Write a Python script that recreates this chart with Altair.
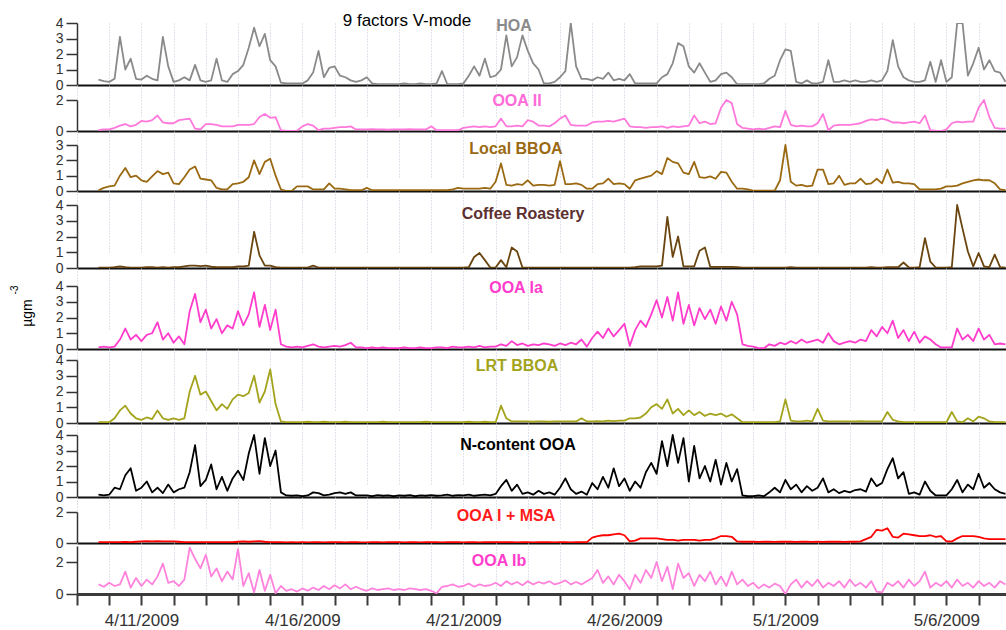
import altair as alt
import pandas as pd

# PMF factor time series, 4-hourly values (ug m-3), first value 2009-04-09 16:00.
# Row layout: first row = 4/9 16h, 20h; then one row per day (00,04,08,12,16,20 h) to 5/7.
SERIES_START = "2009-04-09 16:00"

HOA = [
    0.35, 0.25,
    0.2, 0.4, 3.1, 1.0, 1.7, 0.4,
    0.35, 0.6, 0.4, 0.3, 3.1, 1.2,
    0.2, 0.3, 0.5, 0.3, 1.3, 0.3,
    0.2, 0.3, 1.7, 0.3, 0.2, 0.7,
    0.9, 1.3, 2.4, 3.7, 2.5, 3.3,
    1.6, 1.2, 0.15, 0.1, 0.1, 0.1,
    0.1, 0.3, 0.8, 2.2, 0.5, 1.1,
    1.2, 0.6, 0.5, 0.3, 0.2, 0.3,
    0.5, 0.1, 0.05, 0.05, 0.05, 0.05,
    0.05, 0.1, 0.05, 0.05, 0.1, 0.05,
    0.05, 0.1, 0.9, 0.05, 0.05, 0.05,
    0.1, 0.6, 1.2, 0.6, 1.7, 0.5,
    0.6, 1.0, 3.2, 1.2, 1.8, 3.2,
    2.2, 1.4, 1.0, 0.1, 0.1, 0.2,
    0.5, 0.9, 4.0, 1.2, 0.4, 0.4,
    0.3, 0.5, 0.4, 0.8, 0.3, 0.4,
    0.3, 0.7, 0.1, 0.1, 0.1, 0.1,
    0.1, 0.5, 0.7, 1.4, 2.7, 2.5,
    1.2, 0.8, 1.4, 0.8, 0.2, 0.3,
    0.7, 0.8, 0.5, 0.05, 0.05, 0.05,
    0.05, 0.05, 0.1, 0.4, 0.6, 1.6,
    2.3, 2.2, 0.2, 0.1, 0.3, 0.1,
    0.1, 0.2, 1.6, 0.2, 0.2, 0.3,
    0.2, 0.3, 0.2, 0.2, 0.3, 0.2,
    0.3, 0.9, 2.9, 1.2, 0.5, 0.3,
    0.2, 0.2, 0.3, 1.5, 0.2, 1.6,
    0.2, 0.5, 4.5, 4.2, 0.6, 1.4,
    2.4, 1.0, 1.6, 0.9, 0.8, 0.2,
]

OOA_II = [
    0.05, 0.1,
    0.1, 0.2, 0.35, 0.45, 0.3, 0.4,
    0.65, 0.6, 0.7, 1.0, 0.55, 0.5,
    0.5, 0.7, 0.75, 0.8, 0.15, 0.1,
    0.45, 0.45, 0.4, 0.3, 0.3, 0.3,
    0.4, 0.4, 0.4, 0.45, 0.9, 1.1,
    0.85, 0.9, 0.05, 0.0, 0.0, 0.02,
    0.3, 0.45, 0.35, 0.05, 0.15, 0.15,
    0.2, 0.25, 0.25, 0.3, 0.1, 0.1,
    0.1, 0.12, 0.1, 0.1, 0.08, 0.1,
    0.1, 0.1, 0.12, 0.1, 0.1, 0.1,
    0.3, 0.05, 0.05, 0.05, 0.05, 0.05,
    0.2, 0.25, 0.3, 0.25, 0.3, 0.25,
    0.3, 0.8, 0.3, 0.3, 0.35, 0.3,
    0.7, 0.6, 0.35, 0.35, 0.3, 0.5,
    0.8, 1.0, 0.4, 0.35, 0.35, 0.35,
    0.55, 0.6, 0.6, 0.65, 0.6, 0.7,
    0.8, 0.3, 0.25, 0.25, 0.2, 0.25,
    0.25, 0.3, 0.2, 0.3, 0.25, 0.3,
    0.35, 1.0, 0.5, 0.6, 0.45, 0.5,
    1.5, 2.0, 1.8, 0.45, 0.2, 0.15,
    0.1, 0.15, 0.1, 0.2, 0.3, 0.25,
    1.3, 0.4, 0.3, 0.35, 0.3, 0.3,
    0.5, 1.1, 0.05, 0.35, 0.4, 0.4,
    0.4, 0.45, 0.5, 0.65, 0.75, 0.7,
    0.8, 0.7, 0.55, 0.55, 0.5, 0.55,
    0.6, 0.5, 1.0, 0.05, 0.02, 0.0,
    0.1, 0.5, 0.6, 0.55, 0.6, 0.6,
    1.5, 2.0, 0.9, 0.2, 0.15, 0.15,
]

LOCAL_BBOA = [
    0.05, 0.2,
    0.3, 0.35, 1.0, 1.5, 0.9, 1.0,
    0.7, 0.6, 0.95, 1.3, 1.1, 1.2,
    0.5, 0.45, 0.9, 1.4, 1.6, 0.8,
    0.75, 0.7, 0.2, 0.1, 0.1, 0.45,
    0.5, 0.6, 0.9, 2.0, 1.1, 1.9,
    2.1, 1.0, 0.1, 0.0, 0.0, 0.3,
    0.3, 0.3, 0.1, 0.1, 0.1, 0.5,
    0.15, 0.15, 0.1, 0.05, 0.05, 0.05,
    0.2, 0.05, 0.05, 0.05, 0.05, 0.05,
    0.05, 0.05, 0.05, 0.05, 0.05, 0.05,
    0.05, 0.05, 0.05, 0.05, 0.1, 0.2,
    0.15, 0.15, 0.15, 0.15, 0.2, 0.15,
    0.6, 1.8, 0.4, 0.35, 0.45, 0.4,
    0.7, 0.35, 0.4, 0.4, 0.35, 0.4,
    1.95, 0.45, 0.45, 0.5, 0.4, 0.15,
    0.15, 0.45, 0.5, 0.8, 0.45, 0.5,
    0.45, 0.15, 0.7, 0.8, 0.9, 1.0,
    1.3, 1.1, 2.15, 1.9, 1.8, 1.2,
    1.1, 1.9, 0.9, 0.85, 0.95, 0.8,
    1.25, 1.2, 0.6, 0.15, 0.15, 0.1,
    0.02, 0.02, 0.02, 0.02, 0.02, 0.7,
    3.0, 0.6, 0.35, 0.4, 0.3, 0.35,
    1.4, 1.4, 0.45, 0.5, 1.0, 0.4,
    0.5, 0.5, 0.8, 0.45, 0.5, 0.8,
    0.5, 1.4, 0.55, 0.6, 0.5, 0.5,
    0.45, 0.1, 0.1, 0.1, 0.1, 0.15,
    0.3, 0.3, 0.35, 0.5, 0.6, 0.7,
    0.75, 0.7, 0.7, 0.5, 0.1, 0.05,
]

COFFEE = [
    0.02, 0.03,
    0.03, 0.05, 0.1, 0.05, 0.03, 0.03,
    0.03, 0.05, 0.05, 0.03, 0.05, 0.03,
    0.05, 0.05, 0.1, 0.15, 0.15, 0.12,
    0.15, 0.08, 0.05, 0.05, 0.05, 0.05,
    0.1, 0.1, 0.15, 2.3, 0.8, 0.15,
    0.15, 0.05, 0.02, 0.02, 0.02, 0.02,
    0.02, 0.03, 0.15, 0.03, 0.02, 0.02,
    0.03, 0.02, 0.03, 0.02, 0.03, 0.02,
    0.02, 0.03, 0.02, 0.02, 0.03, 0.02,
    0.02, 0.02, 0.03, 0.02, 0.02, 0.03,
    0.02, 0.03, 0.02, 0.03, 0.02, 0.03,
    0.03, 0.05, 0.7, 0.95, 0.5, 0.03,
    0.03, 0.5, 0.05, 1.3, 1.05, 0.03,
    0.03, 0.02, 0.03, 0.02, 0.03, 0.02,
    0.02, 0.03, 0.02, 0.03, 0.02, 0.03,
    0.03, 0.02, 0.03, 0.03, 0.02, 0.03,
    0.03, 0.03, 0.05, 0.1, 0.1, 0.1,
    0.1, 0.15, 3.25, 0.7, 2.0, 0.1,
    0.1, 0.1, 1.1, 1.3, 0.07, 0.07,
    0.07, 0.07, 0.07, 0.05, 0.03, 0.03,
    0.03, 0.03, 0.02, 0.03, 0.03, 0.02,
    0.03, 0.05, 0.03, 0.02, 0.03, 0.03,
    0.02, 0.03, 0.03, 0.02, 0.03, 0.02,
    0.03, 0.02, 0.03, 0.03, 0.05, 0.03,
    0.03, 0.05, 0.05, 0.05, 0.35, 0.03,
    0.03, 0.05, 1.9, 0.4, 0.03, 0.03,
    0.03, 0.05, 4.0, 2.5, 1.05, 0.1,
    0.95, 0.1, 0.05, 0.85, 0.05, 0.03,
]

OOA_IA = [
    0.1, 0.15,
    0.1, 0.15, 0.6, 1.3, 0.6, 0.9,
    0.5, 0.9, 1.0, 1.7, 0.6, 1.0,
    0.4, 0.8, 0.3, 2.4, 3.5, 1.7,
    2.5, 1.3, 1.9, 1.0, 1.5, 1.3,
    2.4, 1.5, 2.2, 3.6, 1.4, 2.8,
    1.2, 2.5, 0.3, 0.15, 0.1, 0.15,
    0.1, 0.2, 0.3, 0.15, 0.1, 0.15,
    0.2, 0.15, 0.25, 0.4, 0.1, 0.1,
    0.05, 0.1, 0.05, 0.1, 0.05, 0.05,
    0.05, 0.1, 0.05, 0.05, 0.1, 0.05,
    0.05, 0.1, 0.1, 0.05, 0.15, 0.1,
    0.1, 0.15, 0.1, 0.2, 0.1, 0.15,
    0.15, 0.3, 0.2, 0.5, 0.25, 0.35,
    0.2, 0.3, 0.25, 0.35, 0.3, 0.2,
    0.35, 0.25, 0.4, 0.3, 0.6, 0.15,
    0.7, 1.1, 0.7, 1.3, 0.8, 1.2,
    1.6, 0.2, 1.2, 1.8, 1.4, 2.2,
    3.1, 2.0, 3.3, 1.8, 3.6, 1.6,
    2.8, 1.5, 2.6, 1.9, 2.5, 1.6,
    2.7, 1.8, 3.0, 2.2, 0.3, 0.2,
    0.15, 0.05, 0.05, 0.3, 0.2, 0.4,
    0.3, 0.5, 0.35, 0.6, 0.4, 0.5,
    0.6, 0.4, 1.0, 0.5, 0.3, 0.4,
    0.5, 0.4, 0.6, 0.5, 1.2, 0.8,
    1.4, 1.0, 1.8, 0.7, 1.2, 0.5,
    1.1, 0.4, 0.8, 0.6, 0.3, 0.1,
    0.1, 0.1, 1.3, 0.6, 0.9, 0.5,
    1.3, 0.6, 0.9, 0.3, 0.35, 0.3,
]

LRT_BBOA = [
    0.05, 0.05,
    0.05, 0.3, 0.8, 1.1, 0.6, 0.3,
    0.2, 0.35, 0.25, 0.8, 0.3, 0.2,
    0.3, 0.2, 0.3, 2.0, 3.0, 1.8,
    2.0, 1.4, 0.8, 1.2, 0.9, 1.5,
    1.8, 1.7, 1.9, 3.0, 1.3, 2.0,
    3.4, 1.2, 0.1, 0.05, 0.05, 0.05,
    0.05, 0.08, 0.05, 0.05, 0.08, 0.05,
    0.05, 0.05, 0.08, 0.05, 0.05, 0.05,
    0.05, 0.05, 0.05, 0.08, 0.05, 0.05,
    0.05, 0.05, 0.05, 0.05, 0.05, 0.08,
    0.05, 0.05, 0.05, 0.05, 0.05, 0.05,
    0.05, 0.08, 0.05, 0.05, 0.08, 0.05,
    0.05, 1.1, 0.3, 0.1, 0.1, 0.1,
    0.1, 0.08, 0.1, 0.1, 0.08, 0.1,
    0.1, 0.1, 0.1, 0.1, 0.3, 0.1,
    0.1, 0.12, 0.1, 0.15, 0.12, 0.15,
    0.15, 0.3, 0.3, 0.35, 0.6, 1.0,
    1.2, 0.9, 1.5, 0.6, 0.9, 0.5,
    0.8, 0.5, 0.7, 0.45, 0.6, 0.5,
    0.6, 0.4, 0.55, 0.3, 0.05, 0.05,
    0.05, 0.05, 0.05, 0.05, 0.05, 0.1,
    1.5, 0.15, 0.1, 0.1, 0.15, 0.1,
    0.9, 0.15, 0.1, 0.1, 0.1, 0.1,
    0.1, 0.1, 0.12, 0.1, 0.1, 0.1,
    0.1, 0.7, 0.2, 0.1, 0.05, 0.05,
    0.05, 0.05, 0.05, 0.05, 0.05, 0.05,
    0.05, 0.7, 0.1, 0.05, 0.3, 0.1,
    0.4, 0.3, 0.1, 0.05, 0.05, 0.05,
]

N_CONTENT_OOA = [
    0.15, 0.1,
    0.15, 0.6, 0.5, 1.4, 1.85, 0.4,
    0.6, 1.0, 0.3, 0.6, 0.25, 0.8,
    0.3, 0.5, 0.6, 1.6, 3.35, 0.7,
    1.1, 2.1, 0.5, 1.3, 0.4, 1.2,
    1.7, 1.1, 2.8, 4.0, 1.5, 3.8,
    2.0, 3.0, 0.3, 0.1, 0.08, 0.1,
    0.05, 0.1, 0.3, 0.25, 0.1, 0.15,
    0.25, 0.3, 0.2, 0.3, 0.1, 0.1,
    0.1, 0.05, 0.12, 0.08, 0.1, 0.05,
    0.1, 0.08, 0.12, 0.05, 0.1, 0.08,
    0.12, 0.08, 0.1, 0.15, 0.08, 0.12,
    0.1, 0.15, 0.08, 0.12, 0.15, 0.1,
    0.2, 0.7, 1.1, 0.4, 0.8, 0.2,
    0.3, 0.15, 0.4, 0.2, 0.3, 0.15,
    0.6, 1.2, 0.5, 0.2, 0.35, 0.15,
    0.9, 0.5, 1.3, 0.6, 1.85, 0.7,
    1.2, 0.4, 1.0, 0.6, 1.6, 2.2,
    1.5, 3.6, 2.0, 4.0, 2.2, 3.8,
    1.0, 3.3, 1.2, 2.0, 1.0, 2.4,
    0.8, 2.2, 1.0, 1.8, 0.1, 0.05,
    0.05, 0.1, 0.05, 0.3, 0.6, 0.3,
    1.1, 0.5, 0.8, 0.3, 0.7, 0.4,
    0.6, 1.2, 0.3, 0.5, 0.25, 0.4,
    0.3, 0.45, 0.5, 0.35, 1.2, 0.7,
    0.9, 1.8, 2.5, 1.2, 1.6, 0.2,
    0.3, 0.15, 1.0, 0.4, 0.1, 0.1,
    0.1, 0.5, 1.1, 0.3, 0.8, 0.5,
    1.5, 0.6, 0.9, 0.5, 0.3, 0.2,
]

OOA_I_MSA = [
    0.05, 0.05,
    0.05, 0.05, 0.05, 0.07, 0.05, 0.08,
    0.1, 0.12, 0.1, 0.12, 0.1, 0.1,
    0.1, 0.08, 0.06, 0.05, 0.05, 0.05,
    0.05, 0.06, 0.05, 0.05, 0.06, 0.05,
    0.08, 0.1, 0.08, 0.1, 0.12, 0.08,
    0.06, 0.05, 0.05, 0.04, 0.05, 0.04,
    0.05, 0.04, 0.05, 0.05, 0.04, 0.05,
    0.05, 0.05, 0.04, 0.05, 0.05, 0.04,
    0.04, 0.05, 0.05, 0.04, 0.05, 0.05,
    0.05, 0.04, 0.05, 0.05, 0.04, 0.05,
    0.05, 0.05, 0.04, 0.05, 0.05, 0.05,
    0.04, 0.05, 0.05, 0.04, 0.05, 0.05,
    0.05, 0.06, 0.05, 0.05, 0.04, 0.05,
    0.05, 0.04, 0.05, 0.05, 0.05, 0.04,
    0.05, 0.05, 0.04, 0.05, 0.05, 0.06,
    0.35, 0.45, 0.5, 0.5, 0.55, 0.6,
    0.5, 0.1, 0.15, 0.3, 0.3, 0.3,
    0.3, 0.25, 0.2, 0.2, 0.15, 0.2,
    0.2, 0.2, 0.15, 0.2, 0.2, 0.3,
    0.45, 0.45, 0.4, 0.1, 0.08, 0.08,
    0.08, 0.07, 0.08, 0.08, 0.07, 0.08,
    0.08, 0.08, 0.07, 0.08, 0.08, 0.07,
    0.08, 0.07, 0.08, 0.08, 0.08, 0.07,
    0.08, 0.08, 0.1, 0.25, 0.4, 0.85,
    0.8, 0.95, 0.4, 0.35, 0.6, 0.55,
    0.5, 0.45, 0.45, 0.5, 0.4, 0.45,
    0.1, 0.1, 0.3, 0.45, 0.45, 0.45,
    0.4, 0.3, 0.25, 0.25, 0.25, 0.25,
]

OOA_IB = [
    0.6, 0.45,
    0.7, 0.5, 0.6, 1.4, 0.4, 1.0,
    0.5, 0.9, 0.6, 1.1, 1.9, 0.7,
    0.8, 0.5, 0.9, 2.9, 2.2, 1.6,
    2.45, 1.1, 1.6, 0.8, 1.4, 0.9,
    2.8, 0.5, 1.3, 0.1, 1.5, 0.2,
    1.2, 0.05, 0.5, 0.2, 0.3, 0.15,
    0.35, 0.2, 0.4, 0.25, 0.5, 0.3,
    0.55, 0.35, 0.6, 0.3, 0.45, 0.3,
    0.2, 0.35, 0.25, 0.3, 0.35, 0.25,
    0.3, 0.25, 0.35, 0.3, 0.25, 0.3,
    0.2, 0.05, 0.45, 0.5, 0.6, 0.45,
    0.5, 0.65, 0.45, 0.6, 0.5, 0.55,
    0.7, 0.5, 0.8, 0.6, 0.75, 0.55,
    0.8, 0.6, 0.75, 0.65, 0.8, 0.6,
    0.7, 0.85, 0.6, 0.75, 0.6, 0.8,
    1.0, 1.5, 0.7, 1.1, 0.6, 1.2,
    0.8, 0.3, 1.2, 0.7, 1.5, 1.0,
    2.0, 0.8, 1.7, 0.3, 1.9, 1.0,
    1.3, 0.5, 1.2, 0.8, 1.4, 0.6,
    1.1, 0.5, 1.4, 0.6, 0.9, 0.5,
    0.7, 0.35, 0.6, 0.4, 0.65, 0.5,
    0.0, 0.6, 0.9, 0.4, 0.8, 0.5,
    0.9, 0.4, 0.7, 0.5, 0.8, 0.4,
    0.9, 0.5, 0.7, 0.4, 0.8, 0.15,
    0.1, 0.7, 0.5, 0.8, 0.4, 0.9,
    0.5, 0.8, 1.4, 0.4, 0.7, 0.5,
    0.8, 0.4, 0.9, 0.5, 0.7, 0.4,
    0.8, 0.5, 0.7, 0.4, 0.8, 0.6,
]

times = pd.date_range(SERIES_START, periods=len(HOA), freq="4h")

FONT = "Liberation Sans"
PLOT_W = 929
X_DOMAIN = [
    alt.DateTime(year=2009, month=4, date=9, hours=0),
    alt.DateTime(year=2009, month=5, date=7, hours=20, minutes=24),
]
DAY_TICKS = [alt.DateTime(year=2009, month=4, date=d) for d in range(9, 31)] + [
    alt.DateTime(year=2009, month=5, date=d) for d in range(1, 8)
]
LABEL_EXPR = (
    "indexof(['4/11','4/16','4/21','4/26','5/1','5/6'], timeFormat(datum.value, '%-m/%-d')) >= 0"
    " ? timeFormat(datum.value, '%-m/%-d/%Y') : ''"
)
GRID = dict(grid=True, gridColor="#c4c6d8", gridDash=[1, 2], gridWidth=1)

# name, values, line colour, label colour, y max, y ticks, plot height, gap above, label x, label y
PANELS = [
    ("HOA", HOA, "#8a8a8a", "#8a8a8a", 4, [0, 1, 2, 3, 4], 62, 0, 437, 3),
    ("OOA II", OOA_II, "#ff78dc", "#ff6ad8", 2, [0, 1, 2], 31, 15, 440, 16),
    ("Local BBOA", LOCAL_BBOA, "#9a6912", "#9a6912", 3, [0, 1, 2, 3], 46, 14, 439, 18),
    ("Coffee Roastery", COFFEE, "#6a4510", "#5c3030", 4, [0, 1, 2, 3, 4], 63, 14, 446, 23),
    ("OOA Ia", OOA_IA, "#ff3ccc", "#ff3ccc", 4, [0, 1, 2, 3, 4], 63, 18, 439, 20),
    ("LRT BBOA", LRT_BBOA, "#a3a31c", "#a3a31c", 4, [0, 1, 2, 3, 4], 63, 11, 440, 17),
    ("N-content OOA", N_CONTENT_OOA, "#000000", "#000000", 4, [0, 1, 2, 3, 4], 62, 12, 441, 22),
    ("OOA I + MSA", OOA_I_MSA, "#ff0000", "#ff1a1a", 2, [0, 1, 2], 31, 15, 429, 19),
    ("OOA Ib", OOA_IB, "#ff82dc", "#ff3ccc", 3, [0, 2], 48, 3, 422, 18),
]


def text_layer(label, x, y, color="#000000", size=16, weight="bold", angle=0):
    return (
        alt.Chart(pd.DataFrame({"label": [label]}))
        .mark_text(font=FONT, fontSize=size, fontWeight=weight, color=color,
                   align="center", baseline="middle", angle=angle)
        .encode(x=alt.value(x), y=alt.value(y), text="label:N")
    )


def panel(spec, last=False, extra=()):
    name, vals, line_c, label_c, ymax, yticks, h, gap, lx, ly = spec
    full_h = h + gap
    df = pd.DataFrame({"time": times, "conc": vals})
    if last:
        x_axis = alt.Axis(
            values=DAY_TICKS, title=None, labelExpr=LABEL_EXPR, labelOverlap=False,
            labelFlush=False, labelFont=FONT, labelFontSize=17, labelColor="#333333",
            labelPadding=7, ticks=True, tickSize=11, tickWidth=2, tickColor="#3a3a3a",
            domainColor="#3a3a3a", domainWidth=3, **GRID,
        )
    else:
        x_axis = alt.Axis(
            values=DAY_TICKS, title=None, labels=False, ticks=False,
            domainColor="#111111", domainWidth=2, **GRID,
        )
    y_axis = alt.Axis(
        values=yticks, format="d", title=None, grid=False, labelFont=FONT,
        labelFontSize=14, labelColor="#333333", labelPadding=3, tickSize=11,
        tickWidth=1.5, tickColor="#333333", domainColor="#333333", domainWidth=1.5,
        labelOverlap=False, labelFlush=False,
    )
    line = (
        alt.Chart(df)
        .mark_line(color=line_c, strokeWidth=1.8, strokeJoin="round", clip=True)
        .encode(
            x=alt.X("time:T", scale=alt.Scale(domain=X_DOMAIN), axis=x_axis),
            y=alt.Y("conc:Q",
                    scale=alt.Scale(domain=[0, ymax], range=[full_h, gap],
                                    clamp=True, nice=False, zero=False),
                    axis=y_axis),
        )
    )
    layers = [line, text_layer(name, lx, ly, color=label_c)] + list(extra)
    return alt.layer(*layers).properties(width=PLOT_W, height=full_h)


charts = []
for i, spec in enumerate(PANELS):
    extra = []
    if spec[0] == "HOA":
        extra.append(text_layer("9 factors V-mode", 330, -2, size=17, weight="normal"))
    if spec[0] == "OOA Ia":
        extra.append(text_layer("µgm", -49, 45, size=14, weight="normal", angle=270))
        extra.append(text_layer("-3", -62, 22, size=10, weight="normal", angle=270))
    charts.append(panel(spec, last=(i == len(PANELS) - 1), extra=extra))

chart = (
    alt.vconcat(*charts, spacing=0, bounds="flush")
    .resolve_scale(x="independent", y="independent")
    .properties(padding={"left": 10, "top": 12, "right": 0, "bottom": 0})
    .configure(font=FONT)
    .configure_view(strokeWidth=0)
)

chart.save("out.html", embed_options={"renderer": "svg", "actions": False})
